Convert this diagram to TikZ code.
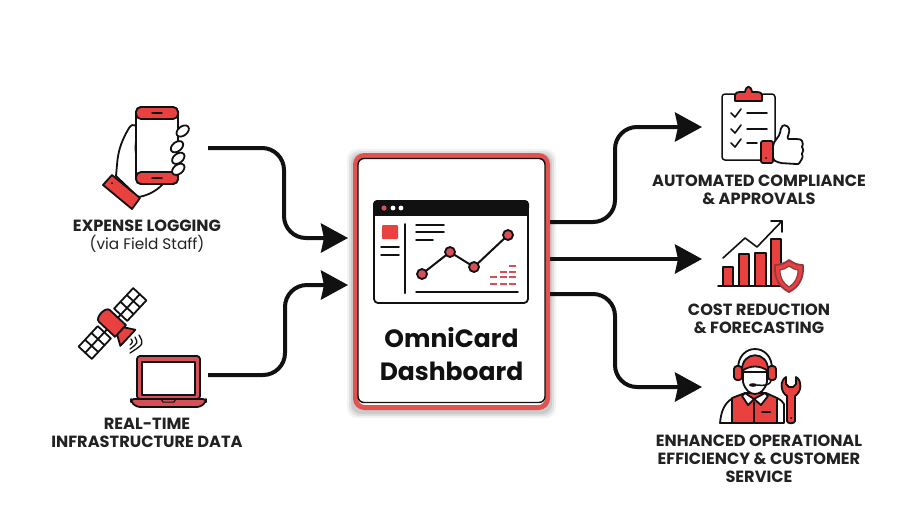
\documentclass[tikz,border=0pt]{standalone}
\usepackage{fontspec}
\setmainfont{Poppins}
\usetikzlibrary{arrows.meta}
\definecolor{rd}{HTML}{E8413F}
\definecolor{rdb}{HTML}{E2524F}
\definecolor{rdd}{HTML}{D6505A}
\definecolor{ink}{HTML}{111111}
\definecolor{txt}{HTML}{222222}
\tikzset{
  ol/.style={draw=ink,line width=1.8pt,line join=round,line cap=round},
  red/.style={ol,fill=rd},
  wht/.style={ol,fill=white},
  thin/.style={draw=ink,line width=1.5pt,line cap=round},
  flow/.style={draw=ink,line width=4pt,rounded corners=22pt,-{Stealth[length=27pt,width=29pt,inset=3pt]}},
  lbl/.style={font=\fontsize{16.2}{18}\selectfont\bfseries,text=txt,align=center,inner sep=0pt},
  title/.style={font=\fontsize{25}{33}\selectfont\bfseries,text=ink,align=center,inner sep=0pt},
  anchorbox/.style={inner sep=0pt,draw=none},
  tiny/.style={fill=rdd,draw=none}
}
\begin{document}
\begin{tikzpicture}[x=1pt,y=-1pt]
\useasboundingbox (0,0) rectangle (901,507);
\fill[white] (0,0) rectangle (901,507);
% shadow
\foreach \g/\o in {6/0.05,4/0.07,2/0.09}{
  \fill[black,opacity=\o,rounded corners=10pt] (353-\g,155-\g) rectangle (550+\g,412+\g);
}
% card
\node[draw=rdb,line width=5pt,fill=white,rounded corners=9pt,minimum width=192pt,minimum height=252pt,inner sep=0pt] (card) at (451.5,281.5) {};
\node[draw=ink,line width=1.4pt,rounded corners=6pt,minimum width=187pt,minimum height=244pt,inner sep=0pt] (cardinner) at (451.5,280.5) {};
% window
\draw[wht,rounded corners=4pt] (374,201) rectangle (528,303);
\fill[ink,rounded corners=4pt] (373,200) rectangle (529,212);
\fill[ink] (373,208) rectangle (529,216);
\fill[rdd] (384,208) circle (2.6);
\fill[white] (393,208) circle (2.4) (401,208) circle (2.4);
\fill[rd,rounded corners=1pt] (382,225) rectangle (398,239);
\draw[thin] (381,247) -- (399,247) (381,255) -- (399,255);
\draw[thin,line width=2pt] (405,224) -- (405,293);
\draw[thin] (416,225) -- (444,225) (416,232) -- (444,232) (416,240) -- (433,240) (416,292) -- (518,292);
\draw[ink,line width=2pt] (422,274) -- (450,252) -- (474,267) -- (508,235);
\foreach \p in {(422,274),(450,252),(474,267),(508,235)}{\fill[rdd,draw=ink,line width=1.8pt] \p circle (5);}
\foreach \cx/\cy in {490/277,490/284,500/272,500/277,500/284,509/266,509/272,509/277,509/284}{
  \fill[tiny] (\cx,\cy-1) rectangle (\cx+7,\cy+1);
}
\node[title] (cardtext) at (451.5,354.5) {OmniCard\\Dashboard};

% phone icon
\node[anchorbox,minimum width=104pt,minimum height=112pt] (phone) at (156,160) {};
\draw[wht] (138,133) .. controls (138,125) and (133,122) .. (129,128)
  .. controls (122,140) and (118,150) .. (117,165) -- (116,176) -- (138,197)
  .. controls (146,196) and (155,192) .. (162,185) -- (140,170)
  .. controls (135,155) and (134,145) .. (138,133) -- cycle;
\draw[wht,rounded corners=5pt] (136,107) rectangle (178,184);
\draw[red,rounded corners=5pt] (136,107) -- (178,107) -- (178,119) -- (136,119) -- cycle;
\draw[red,rounded corners=5pt] (136,172) -- (178,172) -- (178,184) -- (136,184) -- cycle;
\draw[thin] (152,113) -- (162,113) (152,178) -- (162,178);
\foreach \fx/\fy in {182.7/131,177/146.7,178.3/158.3,178.3/169.3}{
  \draw[wht,shift={(\fx,\fy)},rotate=38] (0,0) ellipse [x radius=7,y radius=4.6];
}
\draw[red] (112,175) -- (140,198) -- (132,209) -- (103,185) -- cycle;
\fill[ink] (112,183) circle (1);
\node[lbl] (l1) at (147,226) {EXPENSE LOGGING};
\node[font=\fontsize{15.3}{18}\selectfont,text=txt,inner sep=0pt] (l1b) at (147,244) {(via Field Staff)};

% satellite
\begin{scope}[shift={(112.5,323.5)},rotate=47]
  \foreach \s in {-1,1}{
    \draw[wht] (\s*12,-9) rectangle (\s*40,9);
    \draw[ol] (\s*21.3,-9) -- (\s*21.3,9) (\s*30.6,-9) -- (\s*30.6,9) (\s*12,0) -- (\s*40,0);
    \draw[ol] (\s*8,0) -- (\s*12,0);
  }
  \draw[red] (-8,-11) .. controls (-8,-17) and (8,-17) .. (8,-11) -- (8,11) -- (-8,11) -- cycle;
  \draw[red] (-5,11) -- (5,11) -- (11,21) -- (-11,21) -- cycle;
\end{scope}
\draw[thin,line width=1.3pt] (131,339) .. controls (133,342) .. (130,345)
  (135,337) .. controls (138,343) .. (130,349)
  (139,335) .. controls (144,344) .. (130,353);
% laptop
\node[anchorbox,minimum width=75pt,minimum height=52pt] (laptop) at (168.5,381) {};
\draw[ol,fill=rdd,rounded corners=3pt] (137,356) rectangle (200,399);
\draw[ol,fill=white] (142,362) rectangle (195,395);
\draw[ol,fill=rdd,rounded corners=3pt] (131,399) -- (206,399) -- (206,402) -- (200,407) -- (137,407) -- (131,402) -- cycle;
\draw[thin,line width=1pt] (161,399) -- (163,402) -- (174,402) -- (176,399);
\node[lbl] (l2) at (147,433) {REAL-TIME\\INFRASTRUCTURE DATA};

% clipboard icon
\node[anchorbox,minimum width=81pt,minimum height=78pt] (clip) at (762.5,124) {};
\draw[wht,line width=1.5pt,rounded corners=3pt] (722,94) rectangle (775,160);
\draw[red] (735,101) -- (735,95) .. controls (735,93) and (737,92) .. (741,92)
  -- (745,92) .. controls (746,85) and (751,85) .. (752,92) -- (756,92)
  .. controls (760,92) and (762,93) .. (762,95) -- (762,101) -- cycle;
\foreach \cy/\lx in {113/767,129/767,143/757}{
  \draw[thin,line width=1.6pt,line join=round] (731,\cy) -- (735,\cy+4) -- (741,\cy-4);
  \draw[thin] (747,\cy) -- (\lx,\cy);
}
\draw[wht,rounded corners=2pt] (773,144) -- (780,134) -- (781,127) .. controls (785,124) and (790,127) .. (789,133)
  -- (787,139) -- (798,139) .. controls (803,140) and (803,145) .. (801,147)
  .. controls (804,149) and (803,152) .. (801,154) .. controls (803,156) and (802,159) .. (800,160)
  .. controls (800,163) and (798,164) .. (796,164) -- (780,163) -- (773,160) -- cycle;
\draw[red,rounded corners=2pt] (761,141) rectangle (773,163);
\fill[ink] (766,158) circle (1);
\node[lbl] (r1) at (759,190) {AUTOMATED COMPLIANCE\\\& APPROVALS};

% chart icon
\node[anchorbox,minimum width=86pt,minimum height=72pt] (chart) at (761,256) {};
\foreach \a/\b/\t in {723/733/267,739/749/254,755/766/253,771/781/239}{
  \draw[red] (\a,286) -- (\a,\t) -- (\b,\t) -- (\b,286);
}
\draw[thin,line width=1.7pt] (718,286) -- (782,286);
\draw[thin,line width=1.6pt,line join=round] (723,258) -- (745,238) -- (757,247) -- (782,221);
\draw[thin,line width=1.6pt,line join=round] (771,221) -- (782,221) -- (782,232);
\draw[ol,fill=rd,draw=rdd!70!black] (789,260) .. controls (794,264) and (799,265) .. (803,265)
  .. controls (804,278) and (799,287) .. (789,292)
  .. controls (779,287) and (774,278) .. (775,265)
  .. controls (779,265) and (784,264) .. (789,260) -- cycle;
\draw[ol,fill=white,draw=rdd!70!black,line width=1.2pt] (789,266) .. controls (792,268) and (795,270) .. (798,270)
  .. controls (798,278) and (795,283) .. (789,287)
  .. controls (783,283) and (780,278) .. (780,270)
  .. controls (783,270) and (786,268) .. (789,266) -- cycle;
\node[lbl] (r2) at (759,319) {COST REDUCTION\\\& FORECASTING};

% worker icon
\node[anchorbox,minimum width=84pt,minimum height=78pt] (worker) at (761,385) {};
\draw[wht] (720,423) .. controls (721,412) and (724,403) .. (733,398) -- (777,398)
  .. controls (781,400) and (783,402) .. (784,404) -- (784,423) -- cycle;
\draw[red] (732,423) -- (732,398) -- (745,393) -- (766,393) -- (777,398) -- (777,423) -- cycle;
\draw[ol] (754,402) -- (754,423);
\draw[thin,line width=2pt] (762,412) -- (770,412);
\draw[wht] (743,372) -- (743,382) .. controls (745,390) and (750,394) .. (755,394)
  .. controls (760,394) and (765,390) .. (767,382) -- (767,372) -- cycle;
\draw[wht,line join=round] (745,393) -- (754,399) -- (748,405) -- (742,396) -- cycle;
\draw[wht,line join=round] (765,393) -- (754,399) -- (761,405) -- (768,396) -- cycle;
\draw[ol] (738,370) .. controls (737,342) and (773,342) .. (772,370);
\draw[red] (742,371) .. controls (741,350) and (769,350) .. (768,371) .. controls (760,365) and (750,365) .. (742,371) -- cycle;
\draw[red,rounded corners=3pt] (734,366) rectangle (742,380);
\draw[red,rounded corners=3pt] (768,366) rectangle (776,380);
\draw[thin] (771,381) .. controls (770,385) and (764,386) .. (757,385);
\fill[ink] (753,385) ellipse [x radius=4,y radius=1.8];
\draw[red] (787,421) -- (787,396) .. controls (780,392) and (780,380) .. (786,377)
  -- (786,384) -- (789,387) -- (793,387) -- (796,384) -- (796,377)
  .. controls (802,380) and (802,392) .. (795,396) -- (795,421)
  .. controls (795,424) and (787,424) .. (787,421) -- cycle;
\fill[ink] (791,418) circle (1);
\node[lbl] (r3) at (759,459) {ENHANCED OPERATIONAL\\EFFICIENCY \& CUSTOMER\\SERVICE};

% connector ports
\coordinate (in1) at (348,238);
\coordinate (in2) at (348,285);
\coordinate (o1) at (550,222);
\coordinate (o2) at (550,259);
\coordinate (o3) at (550,294);
\coordinate (t1) at (702,127);
\coordinate (t2) at (702,259);
\coordinate (t3) at (702,387);
\coordinate (s1) at (208,148);
\coordinate (s2) at (208,375);
% connectors
\draw[flow] (s1) -| (284,238) -- (in1);
\draw[flow] (s2) -| (285,285) -- (in2);
\draw[flow] (o1) -| (615,127) -- (t1);
\draw[flow] (o2) -- (t2);
\draw[flow] (o3) -| (615,387) -- (t3);
\end{tikzpicture}
\end{document}
